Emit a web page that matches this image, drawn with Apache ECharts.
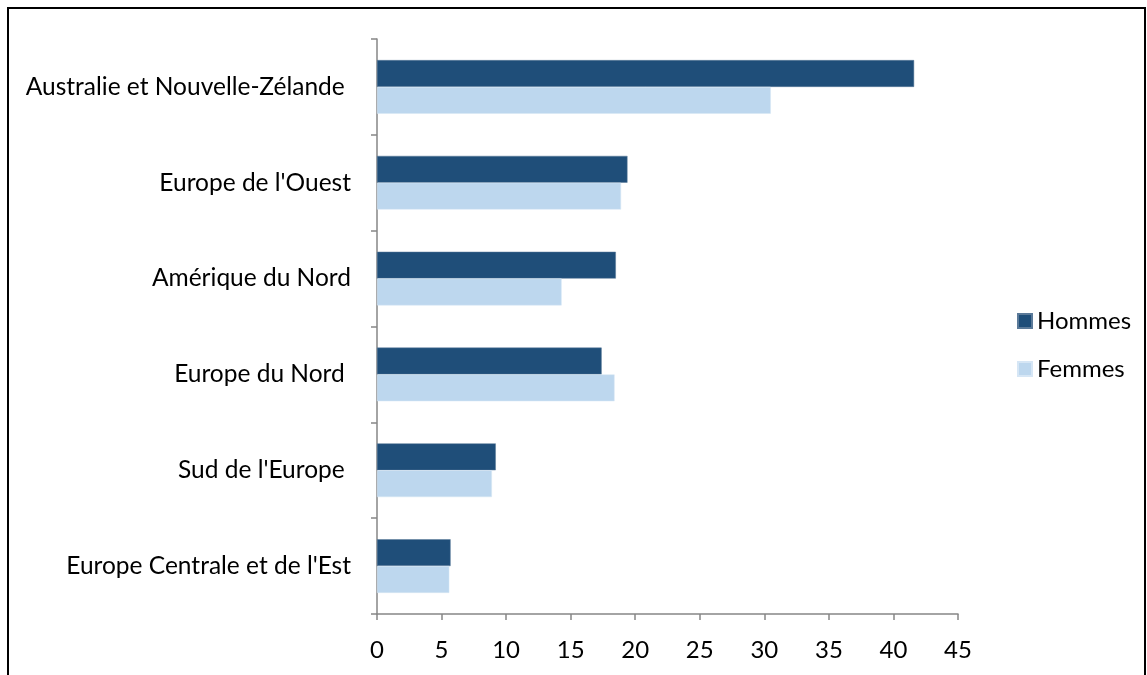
<!DOCTYPE html>
<html>
<head>
<meta charset="utf-8">
<script src="https://cdn.jsdelivr.net/npm/echarts@6/dist/echarts.min.js"></script>
<style>
  html, body { margin: 0; padding: 0; background: #fff; }
  #chart { width: 1147px; height: 675px; }
</style>
</head>
<body>
<div id="chart"></div>
<script>
// regions, top to bottom
const regions = [
  'Australie et Nouvelle-Zélande ',
  "Europe de l'Ouest",
  'Amérique du Nord',
  'Europe du Nord ',
  "Sud de l'Europe ",
  "Europe Centrale et de l'Est"
]
const hommes = [41.6, 19.4, 18.5, 17.4, 9.2, 5.7]
const femmes = [30.5, 18.9, 14.3, 18.4, 8.9, 5.6]
const xTicks = [0, 5, 10, 15, 20, 25, 30, 35, 40, 45]

const font = 'Lato, "Open Sans", sans-serif'
const axisGrey = '#868686'
const fs = 24.5

const myChart = echarts.init(document.getElementById('chart'))
const option = {
  animation: false,
  textStyle: { fontFamily: font },
  graphic: [{
    type: 'rect',
    shape: { x: 8, y: 8, width: 1137, height: 700 },
    style: { fill: 'none', stroke: '#000', lineWidth: 2 },
    silent: true
  }],
  grid: {
    left: 377,
    right: 189,
    top: 39,
    bottom: 61
  },
  legend: {
    orient: 'vertical',
    left: 1012,
    top: 304,
    itemWidth: 14,
    itemHeight: 14,
    itemGap: 24,
    icon: 'rect',
    textStyle: { fontSize: 24, color: '#000', fontFamily: font },
    data: ['Hommes', 'Femmes']
  },
  xAxis: {
    type: 'value',
    min: xTicks[0],
    max: xTicks[xTicks.length - 1],
    interval: 5,
    axisLine: { show: true, lineStyle: { color: axisGrey, width: 1.5 } },
    axisTick: { show: true, length: 6, lineStyle: { color: axisGrey, width: 1.5 } },
    splitLine: { show: false },
    axisLabel: { fontSize: 24, color: '#000', margin: 24, fontFamily: font }
  },
  yAxis: {
    type: 'category',
    inverse: true,
    data: regions,
    axisLine: { show: true, lineStyle: { color: axisGrey, width: 1.5 } },
    axisTick: { show: true, length: 6, lineStyle: { color: axisGrey, width: 1.5 } },
    axisLabel: { fontSize: fs, color: '#000', margin: 26, fontFamily: font }
  },
  series: [
    {
      name: 'Hommes',
      type: 'bar',
      data: hommes,
      barGap: '0%',
      barCategoryGap: '44%',
      itemStyle: { color: '#1F4E79', borderColor: '#5b7a99', borderWidth: 0.5 }
    },
    {
      name: 'Femmes',
      type: 'bar',
      data: femmes,
      itemStyle: { color: '#BDD7EE', borderColor: '#d6e6f5', borderWidth: 0.5 }
    }
  ]
}
myChart.setOption(option)
</script>
</body>
</html>
